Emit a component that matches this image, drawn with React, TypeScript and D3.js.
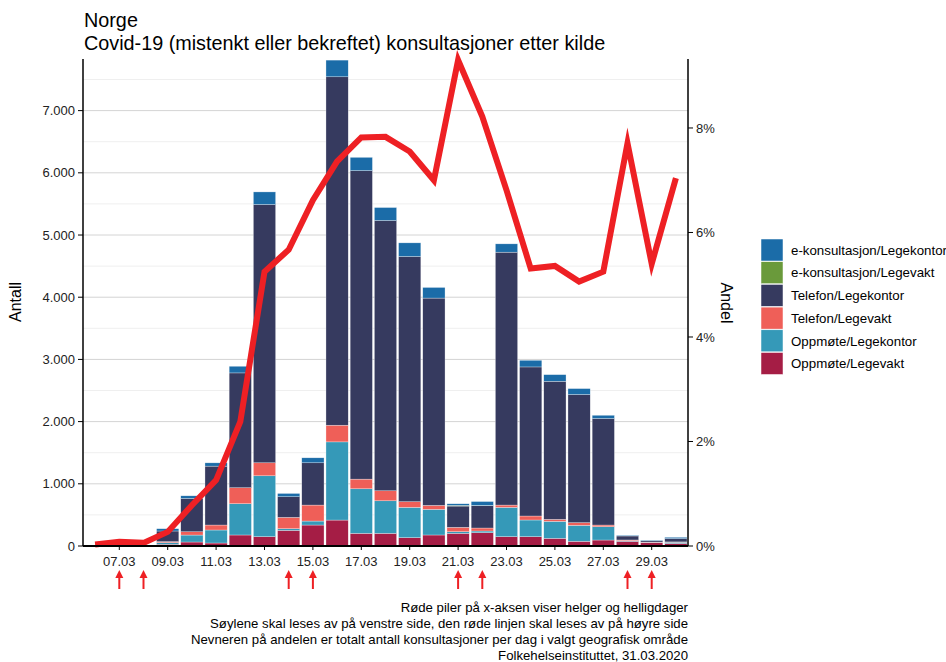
import React from "react";
import * as d3 from "d3";

const dates = ["06.03","07.03","08.03","09.03","10.03","11.03","12.03","13.03","14.03","15.03","16.03","17.03","18.03","19.03","20.03","21.03","22.03","23.03","24.03","25.03","26.03","27.03","28.03","29.03","30.03"];

// stacked bottom -> top
const oppmoteLegevakt = [5,4,4,27,64,48,177,150,251,337,417,203,203,134,177,203,214,150,150,123,75,96,75,53,40];
const oppmoteLegekontor = [0,2,2,27,112,209,503,979,27,64,1257,717,524,487,412,27,27,471,268,273,257,214,11,5,21];
const telefonLegevakt = [0,0,0,16,53,80,257,209,182,257,268,155,161,91,64,70,48,37,64,32,43,27,11,5,5];
const telefonLegekontor = [3,2,2,171,535,947,1846,4152,332,680,5602,4960,4345,3943,3333,342,358,4066,2397,2220,2060,1712,64,21,53];
const eLegevakt = [0,0,0,0,0,0,0,0,0,0,0,0,0,0,0,10,4,0,0,0,0,0,0,0,0];
const eLegekontor = [0,0,0,37,43,53,107,203,53,80,268,214,209,219,171,27,64,134,107,107,96,53,11,11,21];

const andel = [0.03,0.08,0.06,0.27,0.78,1.26,2.38,5.25,5.67,6.62,7.36,7.82,7.83,7.55,7.0,9.3,8.22,6.81,5.31,5.36,5.06,5.25,7.71,5.4,7.04];

const helgDates = ["07.03","08.03","14.03","15.03","21.03","22.03","28.03","29.03"];
const xTickLabels = ["07.03","09.03","11.03","13.03","15.03","17.03","19.03","21.03","23.03","25.03","27.03","29.03"];
const leftTicks = [0,1000,2000,3000,4000,5000,6000,7000];
const rightTicks = [0,2,4,6,8];

const seriesNames = ["Oppmøte/Legevakt","Oppmøte/Legekontor","Telefon/Legevakt","Telefon/Legekontor","e-konsultasjon/Legevakt","e-konsultasjon/Legekontor"];
const seriesValues = [oppmoteLegevakt, oppmoteLegekontor, telefonLegevakt, telefonLegekontor, eLegevakt, eLegekontor];
const seriesColors = ["#a51d45","#3599b8","#ef5f58","#363a5f","#6a9a3b","#1b6ca8"];

const captionLines = [
  "Røde piler på x-aksen viser helger og helligdager",
  "Søylene skal leses av på venstre side, den røde linjen skal leses av på høyre side",
  "Nevneren på andelen er totalt antall konsultasjoner per dag i valgt geografisk område",
  "Folkehelseinstituttet, 31.03.2020",
];

export default function App() {
  const W = 946, H = 662;
  const left = 83, right = 688, top = 59, bottom = 546;
  const font = "'Liberation Sans', Arial, Helvetica, sans-serif";

  const x = d3.scaleBand<string>().domain(dates).range([left, right]).paddingInner(0.08).paddingOuter(0.04);
  const y = d3.scaleLinear().domain([0, 7830]).range([bottom, top]);
  const y2 = d3.scaleLinear().domain([0, 9.32]).range([bottom, top]);

  const table = dates.map((d, i) => {
    const row: any = { date: d };
    seriesNames.forEach((n, k) => (row[n] = seriesValues[k][i]));
    return row;
  });
  const stacked = d3.stack<any>().keys(seriesNames)(table);

  const cx = (d: string) => (x(d) as number) + x.bandwidth() / 2;
  const line = d3.line<number>().x((_, i) => cx(dates[i])).y((v) => y2(v));

  const minorTicks = d3.range(500, 7830, 1000);
  const fmt = (v: number) => (v === 0 ? "0" : d3.format(",")(v).replace(/,/g, "."));

  const legendOrder = [5, 4, 3, 2, 1, 0];

  return (
    <svg width={W} height={H} style={{ position: "absolute", left: 0, top: 0, background: "#fff" }} fontFamily={font}>
      <text x={84} y={27} fontSize={19.8} fill="#000">Norge</text>
      <text x={84} y={50} fontSize={19.8} fill="#000">Covid-19 (mistenkt eller bekreftet) konsultasjoner etter kilde</text>

      {minorTicks.map((t) => (
        <line key={"m" + t} x1={left} x2={right} y1={y(t)} y2={y(t)} stroke="#efefef" strokeWidth={1} />
      ))}
      {leftTicks.map((t) => (
        <line key={"g" + t} x1={left} x2={right} y1={y(t)} y2={y(t)} stroke="#d4d4d4" strokeWidth={1} />
      ))}

      {stacked.map((s, k) => (
        <g key={s.key} fill={seriesColors[k]}>
          {s.map((p, i) => {
            const h = y(p[0]) - y(p[1]);
            if (h <= 0) return null;
            return (
              <rect key={i} x={x(dates[i])} y={y(p[1])} width={x.bandwidth()} height={h}
                stroke="#ffffff" strokeOpacity={0.6} strokeWidth={0.5} />
            );
          })}
        </g>
      ))}

      <path d={line(andel) || ""} fill="none" stroke="#ee2024" strokeWidth={6} strokeLinejoin="miter" strokeMiterlimit={10} />

      {/* axes */}
      <line x1={left} x2={left} y1={top} y2={bottom} stroke="#000" strokeWidth={1.5} />
      <line x1={right} x2={right} y1={top} y2={bottom} stroke="#000" strokeWidth={1.5} />
      <line x1={left} x2={right} y1={bottom} y2={bottom} stroke="#000" strokeWidth={1.8} />

      {leftTicks.map((t) => (
        <g key={"lt" + t}>
          <line x1={left - 5} x2={left} y1={y(t)} y2={y(t)} stroke="#000" />
          <text x={left - 8} y={y(t)} dy="0.36em" textAnchor="end" fontSize={13} fill="#222">{fmt(t)}</text>
        </g>
      ))}
      {rightTicks.map((t) => (
        <g key={"rt" + t}>
          <line x1={right} x2={right + 5} y1={y2(t)} y2={y2(t)} stroke="#000" />
          <text x={right + 8} y={y2(t)} dy="0.36em" textAnchor="start" fontSize={13} fill="#222">{t + "%"}</text>
        </g>
      ))}
      {xTickLabels.map((d) => (
        <g key={"xt" + d}>
          <line x1={cx(d)} x2={cx(d)} y1={bottom} y2={bottom + 4} stroke="#000" />
          <text x={cx(d)} y={565.5} textAnchor="middle" fontSize={13} fill="#222">{d}</text>
        </g>
      ))}

      {helgDates.map((d) => (
        <g key={"ar" + d} stroke="#ee2024" fill="#ee2024">
          <line x1={cx(d)} x2={cx(d)} y1={589} y2={576} strokeWidth={2} />
          <path d={`M${cx(d) - 4},578 L${cx(d)},570 L${cx(d) + 4},578 Z`} stroke="none" />
        </g>
      ))}

      <text transform="translate(21,302) rotate(-90)" textAnchor="middle" fontSize={16} fill="#000">Antall</text>
      <text transform="translate(721,303) rotate(90)" textAnchor="middle" fontSize={16} fill="#000">Andel</text>

      {legendOrder.map((k, j) => (
        <g key={"lg" + k} transform={`translate(761, ${239 + j * 22.7})`}>
          <rect width={22} height={22} fill={seriesColors[k]} stroke="#fff" strokeWidth={0.5} />
          <text x={30} y={11} dy="0.36em" fontSize={13.3} fill="#000">{seriesNames[k]}</text>
        </g>
      ))}

      {captionLines.map((c, i) => (
        <text key={"c" + i} x={688} y={612 + i * 16} textAnchor="end" fontSize={13.2} fill="#000">{c}</text>
      ))}
    </svg>
  );
}
